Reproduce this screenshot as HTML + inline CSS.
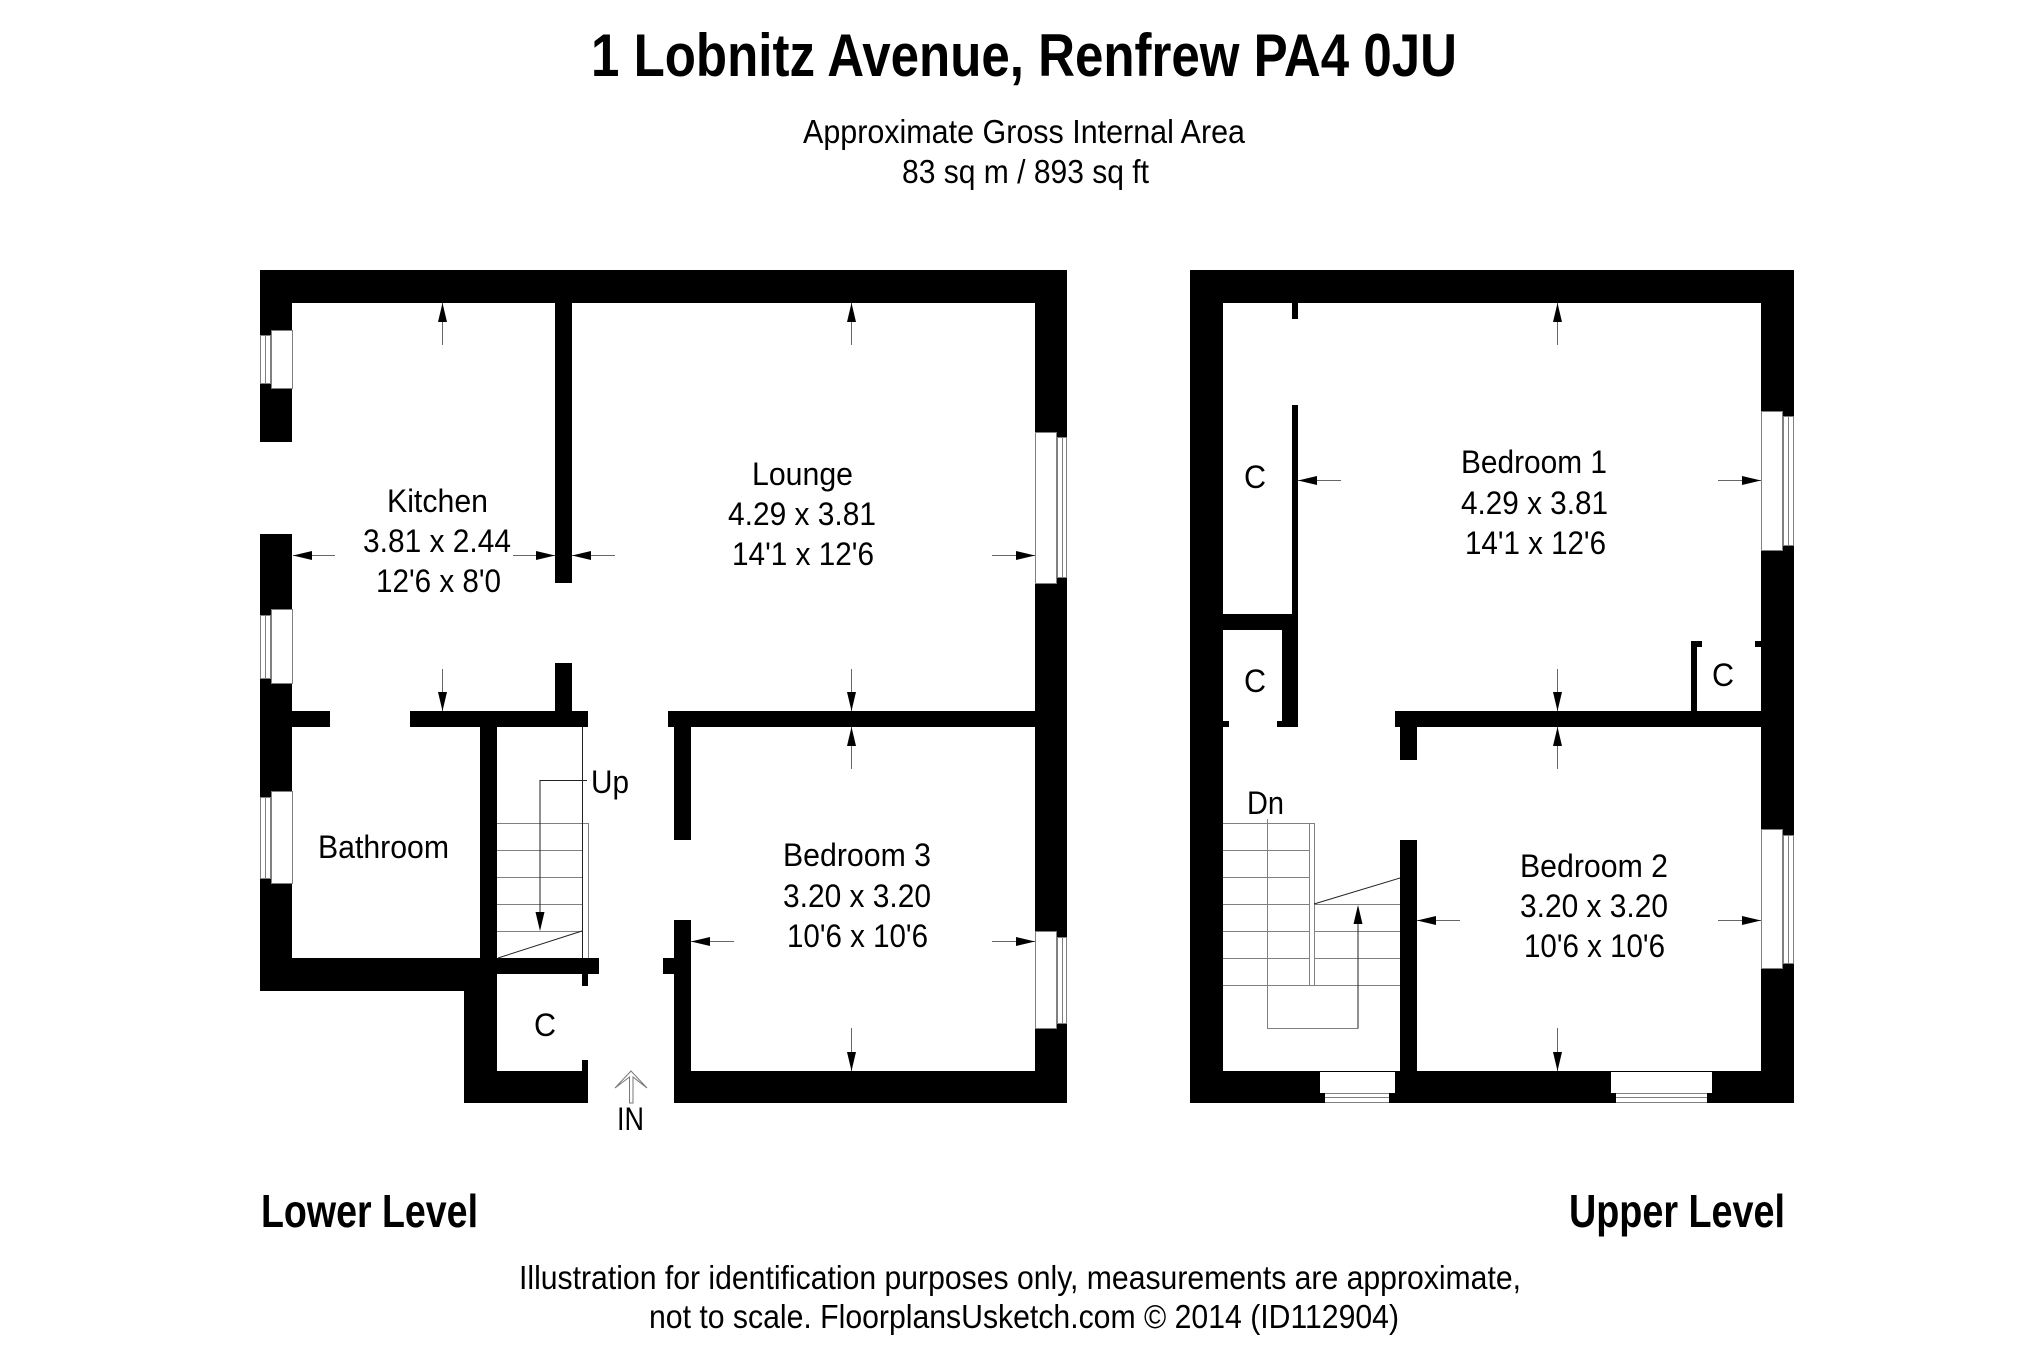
<!DOCTYPE html>
<html lang="en"><head><meta charset="utf-8"><title>1 Lobnitz Avenue, Renfrew PA4 0JU</title>
<style>html,body{margin:0;padding:0;background:#fff}svg{display:block}
text{font-family:"Liberation Sans",Arial,sans-serif;fill:#000}
.t{font-size:32px}.b{font-weight:bold}</style></head><body>
<svg xmlns="http://www.w3.org/2000/svg" width="2025" height="1347" viewBox="0 0 2025 1347">
<rect width="2025" height="1347" fill="#fff"/>
<!-- Lower walls -->
<g fill="#000">
<rect x="260" y="270" width="807" height="33"/>
<rect x="260" y="270" width="32" height="172"/>
<rect x="260" y="534" width="32" height="457"/>
<rect x="260" y="958" width="237" height="33"/>
<rect x="464" y="958" width="33" height="145"/>
<rect x="464" y="1071" width="124" height="32"/>
<rect x="582" y="1060" width="6" height="11"/>
<rect x="497" y="958" width="102" height="16"/>
<rect x="582" y="974" width="6" height="12"/>
<rect x="480" y="711" width="17" height="247"/>
<rect x="292" y="711" width="38" height="16"/>
<rect x="410" y="711" width="178" height="16"/>
<rect x="555" y="303" width="17" height="280"/>
<rect x="555" y="663" width="17" height="48"/>
<rect x="668" y="711" width="367" height="16"/>
<rect x="674" y="727" width="17" height="113"/>
<rect x="674" y="920" width="17" height="183"/>
<rect x="663" y="958" width="11" height="16"/>
<rect x="674" y="1071" width="393" height="32"/>
<rect x="1035" y="270" width="32" height="833"/>
</g>
<!-- Lower windows -->
<g fill="#fff" stroke="#808080" stroke-width="1">
<rect x="271.5" y="330.5" width="21" height="58"/>
<rect x="260.5" y="335.5" width="10" height="48"/>
<rect x="271.5" y="609.5" width="21" height="74"/>
<rect x="260.5" y="615.5" width="10" height="63"/>
<rect x="271.5" y="791.5" width="21" height="92"/>
<rect x="260.5" y="797.5" width="10" height="81"/>
<rect x="1035.5" y="432.5" width="21" height="151"/>
<rect x="1057.5" y="437.5" width="9" height="140"/>
<rect x="1035.5" y="931.5" width="21" height="97"/>
<rect x="1057.5" y="937.5" width="9" height="86"/>
</g>
<path d="M265.5 335V383M265.5 615V678M265.5 797V878M1062.5 437V577M1062.5 937V1023" stroke="#808080" fill="none"/>
<!-- Lower stairs -->
<path d="M497 823.5H588.5V958M497 850.5H582M497 877.5H582M497 904.5H582M497 931.5H582" stroke="#808080" fill="none"/>
<path d="M582.5 727V958M498 958L582 931M587 780.5H540V915" stroke="#222" fill="none"/>
<polygon points="540,931 535.5,912 544.5,912" fill="#000"/>
<!-- IN arrow -->
<path d="M629.5 1103V1077L615 1088L631 1071L647 1088L633 1077V1103Z" fill="none" stroke="#777"/>
<!-- Upper walls -->
<g fill="#000">
<rect x="1190" y="270" width="604" height="33"/>
<rect x="1190" y="270" width="33" height="833"/>
<rect x="1190" y="1071" width="604" height="32"/>
<rect x="1761" y="270" width="33" height="833"/>
<rect x="1292" y="303" width="6" height="16"/>
<rect x="1292" y="405" width="6" height="209"/>
<rect x="1223" y="614" width="75" height="16"/>
<rect x="1282" y="614" width="16" height="113"/>
<rect x="1277" y="721" width="5" height="6"/>
<rect x="1223" y="721" width="6" height="6"/>
<rect x="1395" y="711" width="366" height="16"/>
<rect x="1400" y="727" width="17" height="33"/>
<rect x="1400" y="840" width="17" height="231"/>
<rect x="1691" y="641" width="6" height="70"/>
<rect x="1691" y="641" width="11" height="6"/>
<rect x="1755" y="641" width="6" height="6"/>
</g>
<!-- Upper windows -->
<g fill="#fff" stroke="#808080" stroke-width="1">
<rect x="1761.5" y="411.5" width="21" height="139"/>
<rect x="1783.5" y="416.5" width="10" height="129"/>
<rect x="1761.5" y="829.5" width="21" height="139"/>
<rect x="1783.5" y="835.5" width="10" height="128"/>
</g>
<path d="M1788.5 416V545M1788.5 835V963" stroke="#808080" fill="none"/>
<g fill="#fff">
<rect x="1320" y="1072" width="75" height="21"/>
<rect x="1611" y="1072" width="101" height="21"/>
<rect x="1325" y="1093" width="64" height="10"/>
<rect x="1616" y="1093" width="91" height="10"/>
</g>
<path d="M1325 1093.5H1389M1325 1097.5H1389M1325 1102.5H1389M1616 1093.5H1707M1616 1097.5H1707M1616 1102.5H1707" stroke="#808080" fill="none"/>
<!-- Upper stairs -->
<path d="M1223 823.5H1314.5V985M1223 850.5H1309M1223 877.5H1309M1223 904.5H1309M1314 904.5H1400M1223 931.5H1309M1314 931.5H1400M1223 958.5H1309M1314 958.5H1400M1223 985.5H1400M1309.5 823V985M1267.5 819V1028.5H1358" stroke="#808080" fill="none"/>
<path d="M1358 1028.5V924M1314 904L1400 878" stroke="#222" fill="none"/>
<polygon points="1358,905 1353.5,924 1362.5,924" fill="#000"/>
<!-- Dimension arrows -->
<g stroke="#666" fill="none">
<path d="M442.5 303V345M442.5 669V711M293 555.5H335M555 555.5H513M572 555.5H615"/>
<path d="M851.5 303V345M851.5 669V711M1035 555.5H992M851.5 727V769M851.5 1028V1071M691 941.5H734M1035 941.5H992"/>
<path d="M1557.5 303V345M1557.5 669V711M1298 480.5H1341M1761 480.5H1718M1557.5 727V769M1557.5 1028V1071M1417 920.5H1460M1761 920.5H1718"/>
</g>
<g fill="#000">
<polygon points="442.5,303 438,322 447,322"/><polygon points="442.5,711 438,692 447,692"/>
<polygon points="293,555.5 312,551 312,560"/><polygon points="555,555.5 536,551 536,560"/><polygon points="572,555.5 591,551 591,560"/>
<polygon points="851.5,303 847,322 856,322"/><polygon points="851.5,711 847,692 856,692"/>
<polygon points="1035,555.5 1016,551 1016,560"/>
<polygon points="851.5,727 847,746 856,746"/><polygon points="851.5,1071 847,1052 856,1052"/>
<polygon points="691,941.5 710,937 710,946"/><polygon points="1035,941.5 1016,937 1016,946"/>
<polygon points="1557.5,303 1553,322 1562,322"/><polygon points="1557.5,711 1553,692 1562,692"/>
<polygon points="1298,480.5 1317,476 1317,485"/><polygon points="1761,480.5 1742,476 1742,485"/>
<polygon points="1557.5,727 1553,746 1562,746"/><polygon points="1557.5,1071 1553,1052 1562,1052"/>
<polygon points="1417,920.5 1436,916 1436,925"/><polygon points="1761,920.5 1742,916 1742,925"/>
</g>
<!-- Text -->
<g>
<text class="b" x="591" y="76" font-size="60" textLength="866" lengthAdjust="spacingAndGlyphs">1 Lobnitz Avenue, Renfrew PA4 0JU</text>
<text x="803" y="143" font-size="33" textLength="442" lengthAdjust="spacingAndGlyphs">Approximate Gross Internal Area</text>
<text x="902" y="183" font-size="33" textLength="247" lengthAdjust="spacingAndGlyphs">83 sq m / 893 sq ft</text>

<text class="t" x="387" y="512" textLength="101" lengthAdjust="spacingAndGlyphs">Kitchen</text>
<text class="t" x="363" y="552" textLength="148" lengthAdjust="spacingAndGlyphs">3.81 x 2.44</text>
<text class="t" x="376" y="592" textLength="125" lengthAdjust="spacingAndGlyphs">12'6 x 8'0</text>

<text class="t" x="752" y="485" textLength="101" lengthAdjust="spacingAndGlyphs">Lounge</text>
<text class="t" x="728" y="525" textLength="148" lengthAdjust="spacingAndGlyphs">4.29 x 3.81</text>
<text class="t" x="732" y="565" textLength="142" lengthAdjust="spacingAndGlyphs">14'1 x 12'6</text>

<text class="t" x="783" y="866" textLength="148" lengthAdjust="spacingAndGlyphs">Bedroom 3</text>
<text class="t" x="783" y="907" textLength="148" lengthAdjust="spacingAndGlyphs">3.20 x 3.20</text>
<text class="t" x="787" y="947" textLength="141" lengthAdjust="spacingAndGlyphs">10'6 x 10'6</text>

<text class="t" x="318" y="858" textLength="131" lengthAdjust="spacingAndGlyphs">Bathroom</text>
<text class="t" x="591" y="793" textLength="38" lengthAdjust="spacingAndGlyphs">Up</text>
<text class="t" x="534" y="1036" textLength="22" lengthAdjust="spacingAndGlyphs">C</text>
<text class="t" x="617" y="1130" textLength="27" lengthAdjust="spacingAndGlyphs">IN</text>

<text class="t" x="1461" y="473" textLength="146" lengthAdjust="spacingAndGlyphs">Bedroom 1</text>
<text class="t" x="1461" y="514" textLength="147" lengthAdjust="spacingAndGlyphs">4.29 x 3.81</text>
<text class="t" x="1465" y="554" textLength="141" lengthAdjust="spacingAndGlyphs">14'1 x 12'6</text>

<text class="t" x="1244" y="488" textLength="22" lengthAdjust="spacingAndGlyphs">C</text>
<text class="t" x="1244" y="692" textLength="22" lengthAdjust="spacingAndGlyphs">C</text>
<text class="t" x="1712" y="686" textLength="22" lengthAdjust="spacingAndGlyphs">C</text>
<text class="t" x="1247" y="814" textLength="37" lengthAdjust="spacingAndGlyphs">Dn</text>

<text class="t" x="1520" y="877" textLength="148" lengthAdjust="spacingAndGlyphs">Bedroom 2</text>
<text class="t" x="1520" y="917" textLength="148" lengthAdjust="spacingAndGlyphs">3.20 x 3.20</text>
<text class="t" x="1524" y="957" textLength="141" lengthAdjust="spacingAndGlyphs">10'6 x 10'6</text>

<text class="b" x="261" y="1227" font-size="46" textLength="217" lengthAdjust="spacingAndGlyphs">Lower Level</text>
<text class="b" x="1569" y="1227" font-size="46" textLength="216" lengthAdjust="spacingAndGlyphs">Upper Level</text>

<text x="519" y="1289" font-size="33" textLength="1002" lengthAdjust="spacingAndGlyphs">Illustration for identification purposes only, measurements are approximate,</text>
<text x="649" y="1328" font-size="33" textLength="750" lengthAdjust="spacingAndGlyphs">not to scale. FloorplansUsketch.com © 2014 (ID112904)</text>
</g>
</svg>
</body></html>
